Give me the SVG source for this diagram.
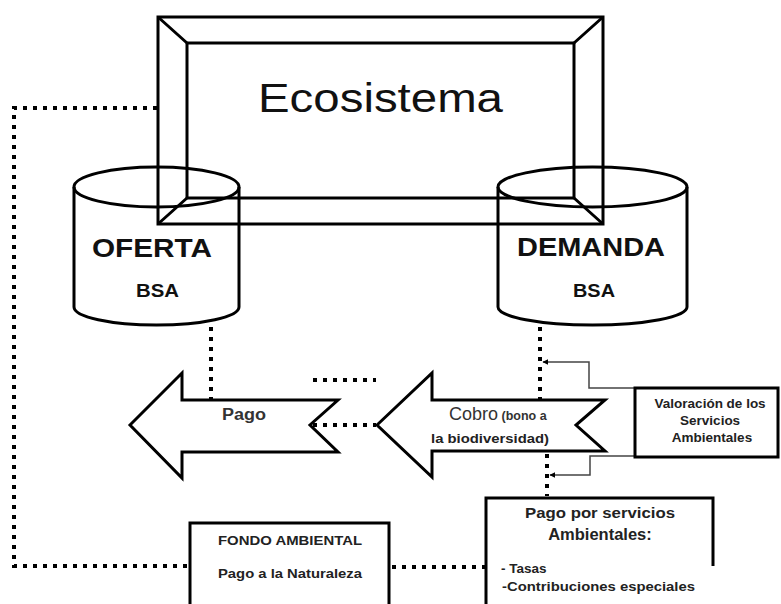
<svg xmlns="http://www.w3.org/2000/svg" width="781" height="604" viewBox="0 0 781 604">
<defs>
<style>
.thick{fill:none;stroke:#000;stroke-width:3;stroke-linejoin:miter}
.dot{fill:none;stroke:#000;stroke-width:4;stroke-dasharray:4 6}
.thin{fill:none;stroke:#444;stroke-width:1.5}
.t{font-family:"Liberation Sans",Arial,sans-serif;fill:#111}
.b{font-weight:bold}
</style>
<marker id="ah" viewBox="0 0 10 10" refX="9" refY="5" markerWidth="6" markerHeight="6" orient="auto" markerUnits="userSpaceOnUse">
<path d="M0,0 L10,5 L0,10 z" fill="#000"/>
</marker>
</defs>
<rect width="781" height="604" fill="#fff"/>

<g id="connectors">
<path class="dot" d="M157,108 H14 V566 H189"/>
<path class="dot" d="M211,327 V399"/>
<path class="dot" d="M540,327 V399"/>
<path class="dot" d="M547,454 V496"/>
<path class="dot" d="M313,380 H376"/>
<path class="dot" d="M313,425 H376"/>
<path class="dot" d="M392,567 H485"/>
<path class="thin" d="M635,388 H589 V362 H543" marker-end="url(#ah)"/>
<path class="thin" d="M635,456 H590 V475 H550" marker-end="url(#ah)"/>
</g>

<g id="ecosistema">
<rect class="thick" x="158" y="17" width="445" height="207"/>
<rect class="thick" x="187" y="43" width="387" height="155"/>
<path class="thick" d="M158,17 L187,43 M603,17 L574,43 M158,224 L187,198 M603,224 L574,198"/>
<text class="t" x="258" y="112" font-size="41" textLength="245" lengthAdjust="spacingAndGlyphs">Ecosistema</text>
</g>

<g id="oferta">
<ellipse class="thick" cx="156.5" cy="187" rx="82.5" ry="20"/>
<path class="thick" d="M74,187 V307 A82.5,18 0 0 0 239,307 V187"/>
<text class="t b" x="92" y="257" font-size="25" textLength="120" lengthAdjust="spacingAndGlyphs">OFERTA</text>
<text class="t b" x="136" y="297" font-size="18" textLength="43" lengthAdjust="spacingAndGlyphs">BSA</text>
</g>

<g id="demanda">
<ellipse class="thick" cx="592.5" cy="187" rx="94.5" ry="20"/>
<path class="thick" d="M498,187 V307 A94.5,18 0 0 0 687,307 V187"/>
<text class="t b" x="517" y="256" font-size="25" textLength="148" lengthAdjust="spacingAndGlyphs">DEMANDA</text>
<text class="t b" x="573" y="297" font-size="18" textLength="42" lengthAdjust="spacingAndGlyphs">BSA</text>
</g>

<g id="pago-arrow">
<path class="thick" d="M130,425 L182,373 V400 H338 L310,425 L338,452 H182 V478 Z" fill="#fff"/>
<text class="t b" x="222" y="420" font-size="16" fill="#333" textLength="44" lengthAdjust="spacingAndGlyphs" style="fill:#333">Pago</text>
</g>

<g id="cobro-arrow">
<path class="thick" d="M377,425 L432,373 V400 H605 L576,425 L605,451 H432 V477 Z" fill="#fff"/>
<text class="t" x="449" y="420" font-size="18" style="fill:#333"><tspan>Cobro</tspan><tspan class="b" font-size="12.5"> (bono a</tspan></text>
<text class="t b" x="431" y="443" font-size="13" textLength="118" lengthAdjust="spacingAndGlyphs" style="fill:#222">la biodiversidad)</text>
</g>

<g id="valoracion">
<rect class="thick" x="635" y="388" width="143" height="69"/>
<text class="t b" font-size="13.5" text-anchor="middle" style="fill:#222">
<tspan x="712" y="408">Valoración de los</tspan>
<tspan x="712" y="425">Servicios</tspan>
<tspan x="712" y="442">Ambientales</tspan>
</text>
</g>

<g id="pago-servicios">
<path class="thick" d="M713,566 V498 H486 V606"/>
<text class="t b" x="600" y="518" font-size="14" text-anchor="middle" textLength="150" lengthAdjust="spacingAndGlyphs" style="fill:#222">Pago por servicios</text>
<text class="t b" x="600" y="540" font-size="16.5" text-anchor="middle" style="fill:#222">Ambientales:</text>
<text class="t b" x="501" y="573" font-size="13.5" style="fill:#222">- Tasas</text>
<text class="t b" x="502" y="591" font-size="13.5" textLength="193" lengthAdjust="spacingAndGlyphs" style="fill:#222">-Contribuciones especiales</text>
</g>

<g id="fondo">
<path class="thick" d="M190,606 V523 H389 V606"/>
<text class="t b" x="218" y="545" font-size="13" textLength="144" lengthAdjust="spacingAndGlyphs" style="fill:#222">FONDO AMBIENTAL</text>
<text class="t b" x="218" y="578" font-size="13" textLength="144" lengthAdjust="spacingAndGlyphs" style="fill:#222">Pago a la Naturaleza</text>
</g>
</svg>
